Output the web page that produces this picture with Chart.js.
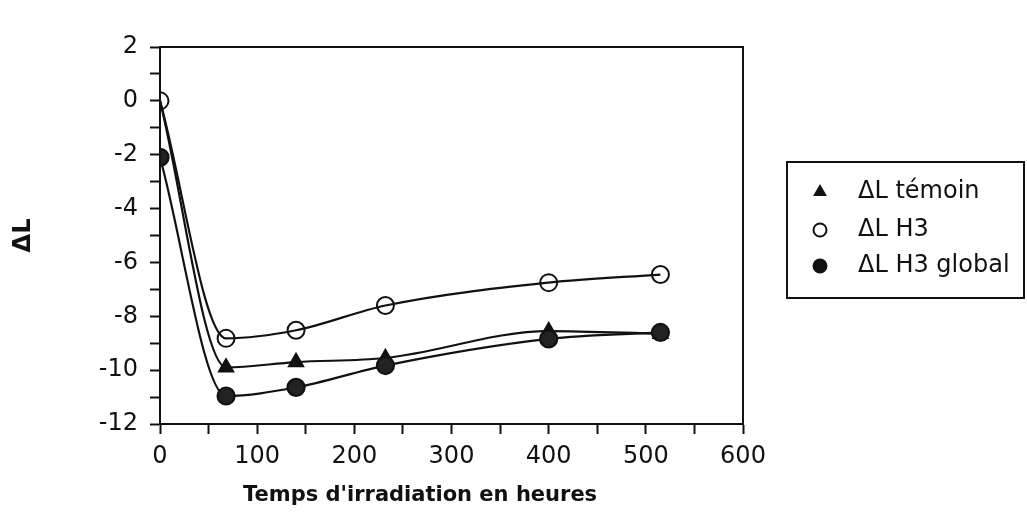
<!DOCTYPE html>
<html>
<head>
<meta charset="utf-8">
<script src="https://cdn.jsdelivr.net/npm/chart.js@4.4.1/dist/chart.umd.min.js"></script>
<style>
  html, body { margin: 0; padding: 0; background: #fff; }
  #wrap { width: 1027px; height: 513px; }
</style>
</head>
<body>
<div id="wrap"><canvas id="graphe"></canvas></div>
<script>
// heures d'irradiation
const heures = [0, 68, 140, 232, 400, 515];
// valeurs
const temoin = [0, -9.9, -9.7, -9.55, -8.55, -8.65];
const h3 = [0, -8.82, -8.52, -7.6, -6.75, -6.45];
const h3Global = [-2.1, -10.96, -10.64, -9.83, -8.84, -8.6];

const nomsSeries = ['\u0394L t\u00e9moin', '\u0394L H3', '\u0394L H3 global'];
const ticksX = [0, 100, 200, 300, 400, 500, 600];
const ticksY = [-12, -10, -8, -6, -4, -2, 0, 2];

const police = "'DejaVu Sans', sans-serif";

function points(valeurs) {
    return heures.map((h, i) => ({ x: h, y: valeurs[i] }));
}

// cadre autour de la zone de tracé
const cadre = {
    id: 'cadre',
    afterDraw(chart) {
        const { ctx, chartArea: a } = chart;
        ctx.save();
        ctx.strokeStyle = '#111';
        ctx.lineWidth = 2;
        ctx.strokeRect(a.left, a.top, a.right - a.left, a.bottom - a.top);
        ctx.restore();
    }
};

// titre de l'axe x (décalé à gauche comme sur l'original)
const titreX = {
    id: 'titreX',
    afterDraw(chart) {
        const { ctx, chartArea: a } = chart;
        ctx.save();
        ctx.fillStyle = '#111';
        ctx.font = "bold 21px " + police;
        ctx.textAlign = 'left';
        ctx.textBaseline = 'middle';
        ctx.fillText("Temps d'irradiation en heures", a.left + 83, 496);
        ctx.restore();
    }
};

// légende encadrée
const legende = {
    id: 'legende',
    afterDraw(chart) {
        const ctx = chart.ctx;
        ctx.save();
        ctx.strokeStyle = '#111';
        ctx.lineWidth = 2;
        ctx.strokeRect(787, 162, 237, 136);
        const lignesY = [192, 230, 266];
        chart.data.datasets.forEach((ds, i) => {
            ctx.fillStyle = ds.pointBackgroundColor === 'transparent' ? '#fff' : '#111';
            ctx.strokeStyle = '#111';
            Chart.helpers.drawPoint(ctx, {
                pointStyle: ds.pointStyle,
                radius: ds.pointStyle === 'triangle' ? 6 : 6.5,
                borderWidth: 2,
                rotation: 0
            }, 820, lignesY[i]);
            ctx.fillStyle = '#111';
            ctx.font = "24px " + police;
            ctx.textAlign = 'left';
            ctx.textBaseline = 'middle';
            ctx.fillText(ds.label, 858, lignesY[i]);
        });
        ctx.restore();
    }
};

const ctx = document.getElementById('graphe').getContext('2d');
new Chart(ctx, {
    type: 'scatter',
    data: {
        datasets: [
            {
                label: nomsSeries[0],
                data: points(temoin),
                showLine: true,
                cubicInterpolationMode: 'monotone',
                borderColor: '#111',
                borderWidth: 2.2,
                pointStyle: 'triangle',
                pointRadius: (c) => c.dataIndex === 0 ? 0 : 8,
                pointBackgroundColor: '#111',
                pointBorderColor: '#111',
                order: 2
            },
            {
                label: nomsSeries[1],
                data: points(h3),
                showLine: true,
                cubicInterpolationMode: 'monotone',
                borderColor: '#111',
                borderWidth: 2.2,
                pointStyle: 'circle',
                pointRadius: 8.5,
                pointBorderWidth: 2,
                pointBackgroundColor: 'transparent',
                pointBorderColor: '#111',
                order: 1
            },
            {
                label: nomsSeries[2],
                data: points(h3Global),
                showLine: true,
                cubicInterpolationMode: 'monotone',
                borderColor: '#111',
                borderWidth: 2.2,
                pointStyle: 'circle',
                pointRadius: 8.5,
                pointBackgroundColor: '#222',
                pointBorderColor: '#111',
                order: 0
            }
        ]
    },
    options: {
        responsive: true,
        maintainAspectRatio: false,
        animation: false,
        layout: { padding: { top: 47, right: 284, left: 0, bottom: 0 } },
        plugins: {
            legend: { display: false },
            tooltip: { enabled: false }
        },
        scales: {
            x: {
                type: 'linear',
                min: ticksX[0],
                max: ticksX[ticksX.length - 1],
                afterFit: (s) => { s.height = 89; },
                ticks: {
                    stepSize: 50,
                    autoSkip: false,
                    maxRotation: 0,
                    padding: 8,
                    color: '#111',
                    font: { family: police, size: 24 },
                    callback: (v) => ticksX.includes(v) ? v : ''
                },
                grid: { drawOnChartArea: false, drawTicks: true, tickLength: 10, tickColor: '#111', tickWidth: 2 },
                border: { color: '#111', width: 2 }
            },
            y: {
                min: ticksY[0],
                max: ticksY[ticksY.length - 1],
                afterFit: (s) => { s.width = 160; },
                ticks: {
                    stepSize: 1,
                    autoSkip: false,
                    padding: 12,
                    color: '#111',
                    font: { family: police, size: 24 },
                    callback: (v) => ticksY.includes(v) ? v : ''
                },
                grid: { drawOnChartArea: false, drawTicks: true, tickLength: 10, tickColor: '#111', tickWidth: 2 },
                border: { color: '#111', width: 2 },
                title: {
                    display: true,
                    text: '\u0394L',
                    color: '#111',
                    font: { family: police, size: 24, weight: 'bold' },
                    padding: { top: 9, bottom: 0 }
                }
            }
        }
    },
    plugins: [cadre, titreX, legende]
});
</script>
</body>
</html>
